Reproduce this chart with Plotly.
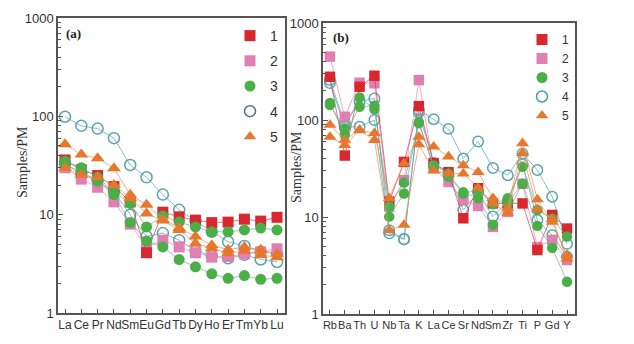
import plotly.graph_objects as go

# ---------------- data ----------------
ree_elements = ["La", "Ce", "Pr", "Nd", "Sm", "Eu", "Gd", "Tb", "Dy", "Ho", "Er", "Tm", "Yb", "Lu"]
spider_elements = ["Rb", "Ba", "Th", "U", "Nb", "Ta", "K", "La", "Ce", "Sr", "Nd", "Sm", "Zr", "Ti", "P", "Gd", "Y"]

# panel (a) REE patterns
a_g1_s1 = [36, 28.5, 25, 19.3, 13.5, 4.1, 10.6, 9.5, 8.8, 8.3, 8.4, 9.0, 8.6, 9.4]
a_g2_s1 = [30, 23, 19, 13.5, 8.0, 4.7, 5.5, 4.7, 4.1, 3.7, 3.75, 4.0, 4.2, 4.5]
a_g3_s1 = [35, 30, 24, 17, 13, 7.5, 9.7, 8.4, 7.5, 6.7, 6.7, 7.0, 7.3, 7.0]
a_g3_s2 = [32, 27, 22, 16, 8.3, 5.4, 4.7, 3.5, 2.95, 2.5, 2.25, 2.4, 2.2, 2.25]
a_g4_s1 = [99, 80, 75, 60, 32, 24, 16, 11.2, 8.6, 6.7, 5.3, 4.8, 4.2, 4.0]
a_g4_s2 = [33, 26, 22, 17, 10, 6.0, 6.5, 5.5, 4.3, 3.8, 3.6, 3.9, 3.5, 3.3]
a_g5_s1 = [52, 41, 37.5, 29.7, 15.9, 12.6, 9.0, 7.3, 6.0, 4.9, 4.4, 4.7, 4.4, 4.0]
a_g5_s2 = [30, 25.3, 24, 20, 14.7, 10.3, 8.7, 7.0, 5.1, 4.55, 4.05, 4.3, 3.9, 3.7]

# panel (b) trace-element spider patterns
b_g1_s1 = [279, 43, 220, 286, 14.4, 37, 139, 36, 29, 9.7, 19.8, 13.8, 13.8, 13.8, 4.57, 10.5, 7.6]
b_g2_s1 = [450, 108, 242, 239, 12.8, 24, 258, 32, 23, 15, 13, 7.9, 11.3, 22, 4.9, 5.8, 3.6]
b_g3_s1 = [143, 82, 171, 129, 12.8, 22.6, 92.5, 34, 28, 17.5, 19, 13.5, 15.6, 33, 11.8, 9.6, 6.3]
b_g3_s2 = [150, 70, 137, 140, 10.1, 17.5, 95, 32, 26, 18, 15.6, 8.3, 14, 22, 8.1, 4.8, 2.15]
b_g4_s1 = [258, 93, 155, 167, 7.3, 5.9, 127, 102, 81, 40, 60, 32, 27, 45, 30.5, 16.2, 5.3]
b_g4_s2 = [240, 85, 85, 100, 6.8, 5.9, 120, 36, 28, 11.8, 18, 10.1, 14.4, 35, 9.3, 6.5, 3.9]
b_g5_s1 = [89, 62, 79, 73, 15.6, 35.7, 67, 53, 42, 34, 29, 15.6, 12.4, 57.5, 15.2, 8.9, 4.06]
b_g5_s2 = [67, 55, 78, 62, 7.3, 8.3, 56, 30, 28, 28, 19.8, 13.8, 11, 45.6, 12, 9.5, 3.7]

group_names = ["1", "2", "3", "4", "5"]
y_tick_vals = [1, 10, 100, 1000]
y_tick_text = ["1", "10", "100", "1000"]

# ---------------- styles ----------------
styles = {
    "1": dict(symbol="square", color="#D8282E", line="rgba(214,60,70,0.7)", size=11),
    "2": dict(symbol="square", color="#E27FB2", line="rgba(230,140,185,0.75)", size=11),
    "3": dict(symbol="circle", color="#4BAF48", line="rgba(110,175,160,0.7)", size=11),
    "4": dict(symbol="circle-open", color="#5AA4AE", line="rgba(95,165,175,0.75)", size=11),
    "5": dict(symbol="triangle-up", color="#E8772E", line="rgba(238,150,95,0.75)", size=12),
}

panel_a = [("4", a_g4_s1), ("4", a_g4_s2), ("2", a_g2_s1), ("1", a_g1_s1),
           ("3", a_g3_s1), ("3", a_g3_s2), ("5", a_g5_s1), ("5", a_g5_s2)]
panel_b = [("4", b_g4_s1), ("4", b_g4_s2), ("2", b_g2_s1), ("1", b_g1_s1),
           ("3", b_g3_s1), ("3", b_g3_s2), ("5", b_g5_s1), ("5", b_g5_s2)]

fig = go.Figure()


def add_series(cats, vals, grp, xa, ya, size_scale=1.0):
    st = styles[grp]
    marker = dict(symbol=st["symbol"], size=st["size"] * size_scale, color=st["color"])
    if st["symbol"].endswith("open"):
        marker["line"] = dict(color=st["color"], width=1.5)
    else:
        marker["line"] = dict(width=0)
    fig.add_trace(go.Scatter(x=cats, y=vals, mode="lines+markers", xaxis=xa, yaxis=ya,
                             line=dict(color=st["line"], width=1), marker=marker,
                             showlegend=False, hoverinfo="skip"))


for grp, vals in panel_a:
    add_series(ree_elements, vals, grp, "x", "y")
for grp, vals in panel_b:
    add_series(spider_elements, vals, grp, "x2", "y2", 0.95)

# legend proxies
legend_colors = {"a": {"4": "#5A6C8E"}, "b": {"4": "#4AA3A0"}}
for lg, xa, ya, key in [("legend", "x", "y", "a"), ("legend2", "x2", "y2", "b")]:
    for g in group_names:
        st = styles[g]
        col = legend_colors[key].get(g, st["color"])
        marker = dict(symbol=st["symbol"], size=11, color=col)
        if st["symbol"].endswith("open"):
            marker["line"] = dict(color=col, width=1.5)
        else:
            marker["line"] = dict(width=0)
        fig.add_trace(go.Scatter(x=[None], y=[None], mode="markers", name=g, marker=marker,
                                 xaxis=xa, yaxis=ya, legend=lg, legendgroup=key + g,
                                 showlegend=True))

W, H = 634, 344
PAGE_OFFSET = 8  # default page margin around the figure


def px_x(p):
    return (p - PAGE_OFFSET) / W


def px_y(p):
    return (H - (p - PAGE_OFFSET)) / H


axis_font = dict(family="Liberation Sans, Arial, sans-serif", size=12, color="#333333")
minor_vals = [m * 10 ** e for e in range(0, 3) for m in range(2, 10)]

common_x = dict(type="category", showline=True, mirror=True, linecolor="#555555", linewidth=1.5,
                ticks="inside", ticklen=4, tickcolor="#555555", showgrid=False, zeroline=False,
                tickfont=axis_font, fixedrange=True, tickangle=0, automargin=False)
common_y = dict(type="log", showline=True, mirror=True, linecolor="#555555", linewidth=1.5,
                ticks="inside", ticklen=5, tickcolor="#555555", showgrid=False, zeroline=False,
                tickmode="array", tickvals=y_tick_vals, ticktext=y_tick_text,
                tickfont=dict(axis_font, size=13),
                minor=dict(tickmode="array", tickvals=minor_vals, ticks="inside", ticklen=3,
                           tickcolor="#555555", showgrid=False),
                range=[0, 3], fixedrange=True, automargin=False)

fig.update_layout(
    width=W, height=H, margin=dict(l=0, r=0, t=0, b=0),
    paper_bgcolor="white", plot_bgcolor="white",
    xaxis=dict(common_x, domain=[px_x(58), px_x(285)], anchor="y",
               categoryorder="array", categoryarray=ree_elements,
               tickmode="array", tickvals=ree_elements, ticktext=ree_elements,
               range=[-0.43, len(ree_elements) - 1 + 0.49]),
    yaxis=dict(common_y, domain=[px_y(313), px_y(18)], anchor="x"),
    xaxis2=dict(common_x, domain=[px_x(323), px_x(575)], anchor="y2",
                categoryorder="array", categoryarray=spider_elements,
                tickmode="array", tickvals=spider_elements, ticktext=spider_elements,
                tickfont=dict(axis_font, size=11),
                range=[-0.47, len(spider_elements) - 1 + 0.54]),
    yaxis2=dict(common_y, domain=[px_y(314), px_y(23)], anchor="x2"),
    legend=dict(x=px_x(230), y=px_y(20), xanchor="left", yanchor="top", bgcolor="rgba(0,0,0,0)",
                font=dict(family="Liberation Sans, Arial, sans-serif", size=14, color="#333333"),
                tracegroupgap=4, itemsizing="trace"),
    legend2=dict(x=px_x(522), y=px_y(25), xanchor="left", yanchor="top", bgcolor="rgba(0,0,0,0)",
                 font=dict(family="Liberation Sans, Arial, sans-serif", size=12, color="#333333"),
                 tracegroupgap=0, itemsizing="trace"),
    annotations=[
        dict(text="<b>(a)</b>", x=px_x(73), y=px_y(33), xref="paper", yref="paper", showarrow=False,
             xanchor="center", yanchor="middle",
             font=dict(family="Liberation Serif, Times New Roman, serif", size=13, color="#222222")),
        dict(text="<b>(b)</b>", x=px_x(341), y=px_y(37), xref="paper", yref="paper", showarrow=False,
             xanchor="center", yanchor="middle",
             font=dict(family="Liberation Serif, Times New Roman, serif", size=13, color="#222222")),
        dict(text="Samples/PM", x=px_x(22), y=px_y(162), xref="paper", yref="paper", showarrow=False,
             textangle=-90, xanchor="center", yanchor="middle",
             font=dict(family="Liberation Serif, Times New Roman, serif", size=14, color="#333333")),
        dict(text="Samples/PM", x=px_x(296), y=px_y(167), xref="paper", yref="paper", showarrow=False,
             textangle=-90, xanchor="center", yanchor="middle",
             font=dict(family="Liberation Serif, Times New Roman, serif", size=14, color="#333333")),
    ],
)

fig.write_html("out.html")
